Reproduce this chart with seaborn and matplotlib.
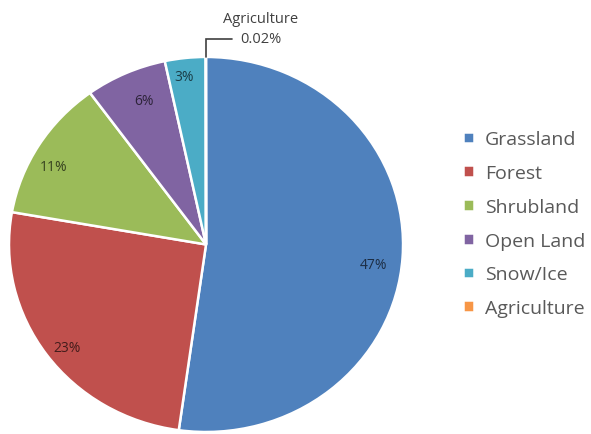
import numpy as np
import matplotlib
matplotlib.use("Agg")
import matplotlib.pyplot as plt
import seaborn as sns

sns.set_theme(style="white")
plt.rcParams["font.family"] = ["Open Sans", "DejaVu Sans"]

# Land cover shares (percent)
categories = ["Grassland", "Forest", "Shrubland", "Open Land", "Snow/Ice", "Agriculture"]
shares = [47, 23, 11, 6, 3, 0.02]
colors = ["#4F81BD", "#C0504D", "#9BBB59", "#8064A2", "#4BACC6", "#F79646"]
label_colors = ["#1c2d44", "#431c1b", "#36411f", "#2d2339", "#1a3c45", "#563418"]

fig = plt.figure(figsize=(5.91, 4.35), dpi=100)
ax = fig.add_axes([0, 0, 1, 1])

wedges, _ = ax.pie(
    shares,
    colors=colors,
    startangle=90,
    counterclock=False,
    radius=1.0,
    wedgeprops=dict(edgecolor="white", linewidth=1.8),
)
ax.set_aspect("auto")
ax.set_xlim(-1.0457, 1.954)
ax.set_ylim(-1.0107, 1.309)
ax.axis("off")

# Percentage labels inside the wedges (radius and small angular nudge per label)
label_radius = [0.855, 0.895, 0.88, 0.83, 0.905]
label_shift = [-3.3, 2.0, 3.7, -1.6, 1.0]
for w, v, r, s, c in zip(wedges[:5], shares[:5], label_radius, label_shift, label_colors):
    mid = np.deg2rad((w.theta1 + w.theta2) / 2 + s)
    ax.text(r * np.cos(mid), r * np.sin(mid), f"{v:g}%", ha="center", va="center",
            fontsize=10, color=c)

# Callout for the tiny Agriculture slice
w = wedges[5]
mid = np.deg2rad((w.theta1 + w.theta2) / 2)
x0, y0 = np.cos(mid), np.sin(mid)
y_line = 1.096
ax.plot([x0, x0, x0 + 0.135], [y0, y_line, y_line], color="#404040", lw=1.2,
        clip_on=False, solid_joinstyle="miter")
ax.text(0.279, 1.152, f"{categories[5]}\n{shares[5]:g}%", ha="center", va="center",
        fontsize=10.5, color="#404040", linespacing=1.45)

fig.legend(
    wedges, categories,
    loc="upper left", bbox_to_anchor=(0.771, 0.716),
    frameon=False, fontsize=14, labelcolor="#595959",
    handlelength=0.55, handleheight=0.55, handletextpad=0.55,
    labelspacing=0.81, borderaxespad=0,
)

fig.savefig("out.png", dpi=100, facecolor="white")
